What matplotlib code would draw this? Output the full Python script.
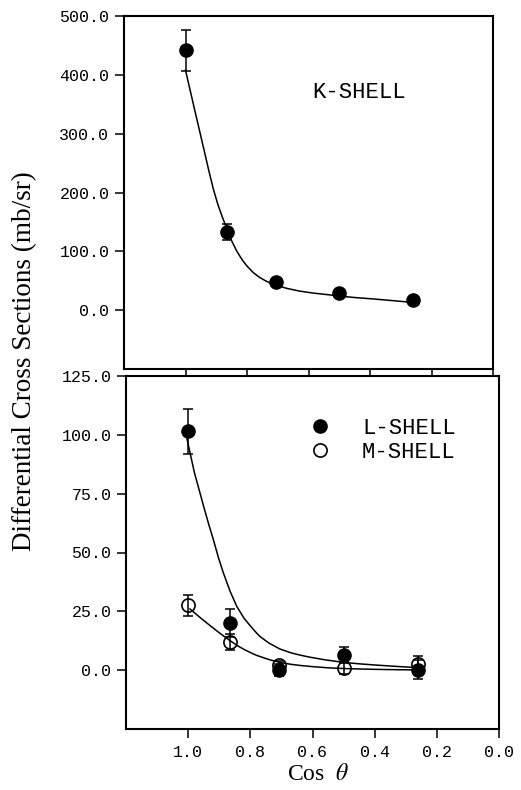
import matplotlib
matplotlib.use("Agg")
import matplotlib.pyplot as plt

plt.rcParams['mathtext.fontset'] = 'stix'

# ---- data ----
cos_theta = [1.0, 0.866, 0.707, 0.5, 0.259]

k_vals = [442, 133, 48, 30, 17]
k_err = [35, 13, 4, 4, 4]

l_vals = [101.5, 20, 0, 6.5, 0.2]
l_err = [9.5, 6, 2.5, 3.5, 4]

m_vals = [27.5, 12, 2, 0.8, 2.5]
m_err = [4.5, 3.5, 2, 2.5, 3.5]

# fitted curves
k_fit_x = [1.0, 0.97, 0.94, 0.925, 0.91, 0.895, 0.88, 0.866, 0.85, 0.834, 0.815, 0.80,
           0.78, 0.76, 0.74, 0.72, 0.70, 0.67, 0.63, 0.584, 0.54, 0.50, 0.45, 0.40,
           0.35, 0.30, 0.259]
k_fit_y = [408, 340, 273, 239, 207, 180, 158, 139, 118, 101, 85, 75,
           64, 56, 50, 45, 41.5, 37, 32.5, 29, 26.5, 24, 21.5, 19.5,
           17.3, 15, 13]

l_fit_x = [1.005, 0.98, 0.951, 0.935, 0.919, 0.903, 0.887, 0.865, 0.844, 0.82, 0.80,
           0.78, 0.769, 0.74, 0.705, 0.67, 0.64, 0.608, 0.56, 0.50, 0.45, 0.40, 0.33,
           0.265]
l_fit_y = [99, 84, 70, 62.5, 55.5, 48, 41.4, 33.5, 27.2, 22, 18.8,
           15.8, 14.3, 11.5, 9.0, 7.4, 6.4, 5.5, 4.4, 3.3, 2.7, 2.2, 1.6,
           1.1]

m_fit_x = [0.994, 0.962, 0.930, 0.90, 0.866, 0.84, 0.82, 0.80, 0.78, 0.74, 0.705,
           0.67, 0.64, 0.60, 0.55, 0.50, 0.45, 0.40, 0.33, 0.265]
m_fit_y = [26.0, 22.4, 19.0, 15.9, 12.6, 10.3, 8.8, 7.5, 6.3, 4.5, 3.3,
           2.5, 2.0, 1.5, 1.0, 0.7, 0.5, 0.35, 0.2, 0.1]

x_ticks = [1.0, 0.8, 0.6, 0.4, 0.2, 0.0]
k_yticks = [0, 100, 200, 300, 400, 500]
lm_yticks = [0, 25, 50, 75, 100, 125]

W, H = 521, 790
fig = plt.figure(figsize=(W / 100, H / 100), dpi=100)
ax1 = fig.add_axes([124 / W, 1 - 369 / H, 369 / W, 353 / H])
ax2 = fig.add_axes([126 / W, 1 - 729 / H, 373 / W, 353 / H])

mono = 'Liberation Mono'
for ax in (ax1, ax2):
    ax.set_xlim(1.2, 0.0)
    ax.set_xticks(x_ticks)
    ax.set_xticklabels([f"{v:.1f}" for v in x_ticks])
    for s in ax.spines.values():
        s.set_linewidth(1.5)
    ax.tick_params(axis='both', direction='out', width=1.1, colors='black',
                   labelsize=12, labelfontfamily=mono)
    ax.tick_params(axis='y', length=6.5, pad=4)
    ax.tick_params(axis='x', length=6.5, pad=5)

ax1.set_ylim(-100, 500)
ax1.set_yticks(k_yticks)
ax1.set_yticklabels([f"{v:.1f}" for v in k_yticks])
ax1.tick_params(axis='x', labelbottom=False, length=5)

ax2.set_ylim(-25, 125)
ax2.set_yticks(lm_yticks)
ax2.set_yticklabels([f"{v:.1f}" for v in lm_yticks])

# K-shell
ax1.plot(k_fit_x, k_fit_y, color='black', lw=1.1)
ax1.errorbar(cos_theta, k_vals, yerr=k_err, fmt='none', ecolor='black',
             elinewidth=1.1, capsize=3.5, capthick=1.1)
ax1.plot(cos_theta, k_vals, 'o', color='black', ms=9.5)
ax1.text(0.509, 0.782, 'K-SHELL', transform=ax1.transAxes, family=mono,
         fontsize=16, ha='left', va='center')

# L and M shells
ax2.plot(l_fit_x, l_fit_y, color='black', lw=1.1)
ax2.plot(m_fit_x, m_fit_y, color='black', lw=1.1)
ax2.errorbar(cos_theta, m_vals, yerr=m_err, fmt='none', ecolor='black',
             elinewidth=1.1, capsize=3.5, capthick=1.1)
ax2.errorbar(cos_theta, l_vals, yerr=l_err, fmt='none', ecolor='black',
             elinewidth=1.1, capsize=3.5, capthick=1.1)
ax2.plot(cos_theta, m_vals, 'o', mfc='none', mec='black', mew=1.2, ms=9.5,
         label='M-SHELL', zorder=3)
ax2.plot(cos_theta, l_vals, 'o', color='black', ms=9.5,
         label='L-SHELL', zorder=4)
handles, labels = ax2.get_legend_handles_labels()
order = [labels.index('L-SHELL'), labels.index('M-SHELL')]
leg = ax2.legend([handles[i] for i in order], [labels[i] for i in order],
                 loc='upper left', bbox_to_anchor=(0.49, 0.882), frameon=False,
                 prop={'family': mono, 'size': 16}, handlelength=1.0,
                 handletextpad=1.4, labelspacing=0.15, borderpad=0.0,
                 borderaxespad=0.0)

fig.text(25 / W, 1 - 361 / H, 'Differential Cross Sections (mb/sr)', rotation=90,
         family='Liberation Serif', fontsize=19.5, ha='center', va='center')
fig.text(318 / W, 1 - 775 / H, 'Cos  $\\theta$', family='Liberation Serif',
         fontsize=17, ha='center', va='center')

fig.savefig('out.png', dpi=100)
